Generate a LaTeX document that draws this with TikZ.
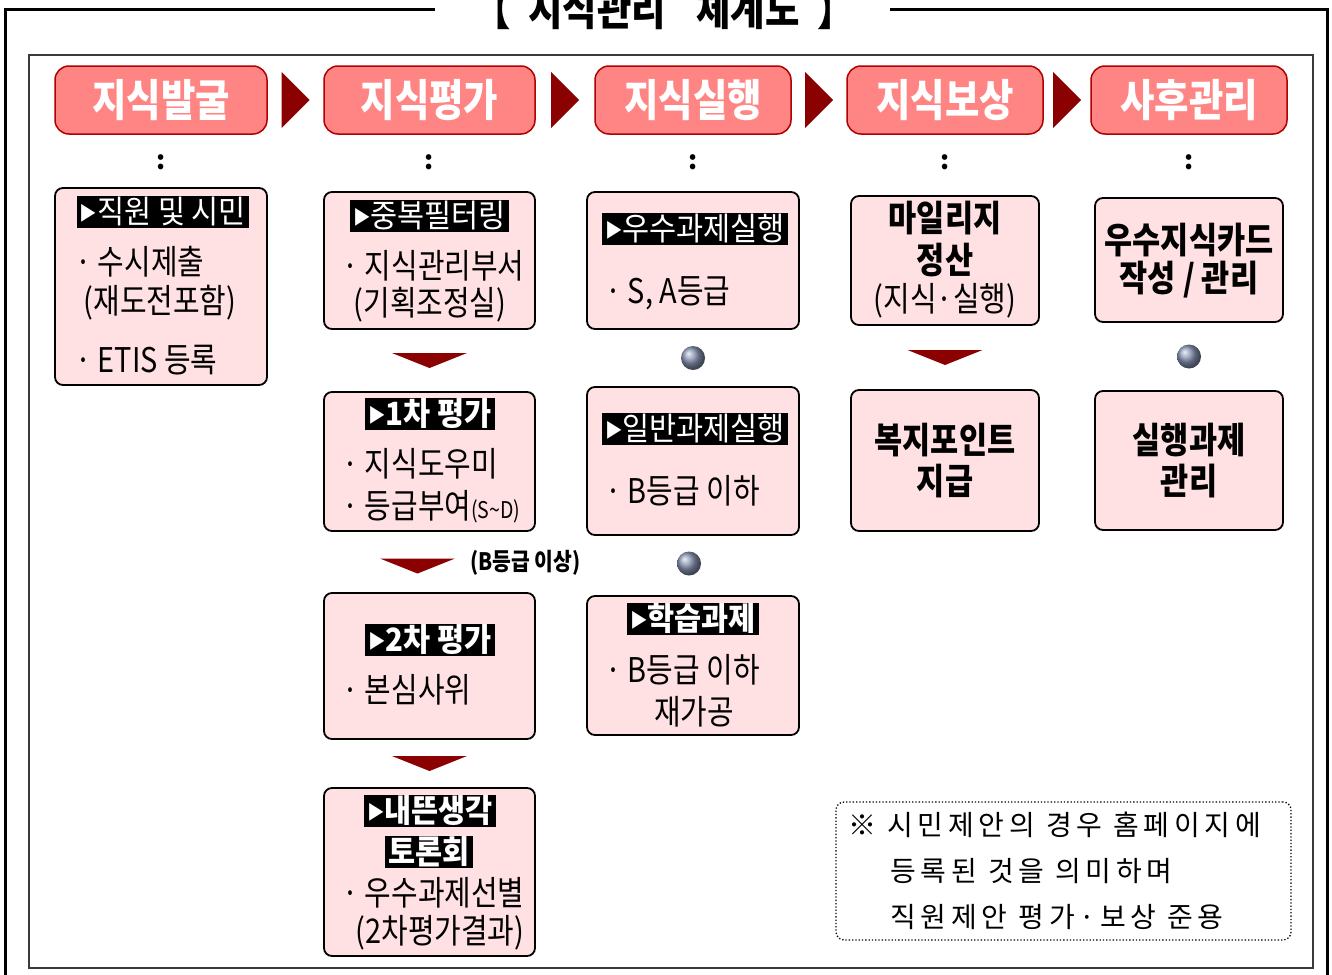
\documentclass[tikz,border=0pt]{standalone}
\usepackage{fontspec}
\newfontfamily\krfont{Noto Sans CJK KR}
\newfontfamily\krnarrow[FakeStretch=0.85]{Noto Sans CJK KR}
\newfontfamily\krtag[FakeStretch=0.92]{Noto Sans CJK KR}
\newfontfamily\krspaced[LetterSpace=17]{Noto Sans CJK KR}
\usetikzlibrary{calc,positioning}
\definecolor{headfill}{HTML}{FF8585}
\definecolor{headline}{HTML}{B00000}
\definecolor{boxpink}{HTML}{FFE0E3}
\definecolor{arrowred}{HTML}{8B0000}
\definecolor{framegray}{HTML}{3A3A3A}
\definecolor{ballgray}{HTML}{8A96B4}
\newcommand{\tri}{{\fontsize{19}{19}\selectfont\raisebox{3pt}{▶}}}
\begin{document}
\begin{tikzpicture}[x=1pt, y=-1pt,
    headbox/.style={draw=headline, line width=1.5pt, fill=headfill, rounded corners=14pt,
        minimum height=68pt, text=white, font=\krnarrow\bfseries\fontsize{44}{48}\selectfont},
    cardbox/.style={draw=black, line width=1.8pt, fill=boxpink, rounded corners=8pt},
    tagbox/.style={fill=black, text=white, inner xsep=3pt, inner ysep=0.5pt, text height=27pt, text depth=4pt,
        font=\krtag\fontsize{32}{34}\selectfont},
    tagbold/.style={tagbox, font=\krtag\bfseries\fontsize{32}{34}\selectfont},
    bodytext/.style={inner sep=0pt, font=\krnarrow\fontsize{34}{36}\selectfont},
    boldtext/.style={inner sep=0pt, font=\krnarrow\bfseries\fontsize{36}{38}\selectfont},
    smallbold/.style={inner sep=0pt, font=\krnarrow\bfseries\fontsize{24}{26}\selectfont},
    dotmark/.style={inner sep=0pt, font=\krfont\bfseries\fontsize{26}{26}\selectfont},
    ballmark/.style={circle, inner sep=0pt, minimum size=24pt, shading=ball, ball color=ballgray},
    notetext/.style={anchor=west, inner sep=0pt, font=\krspaced\fontsize{28}{30}\selectfont}
]
    \clip (0,0) rectangle (1332,974);

    % outer frame and title
    \draw[line width=3pt] (435,10) -- (5,10) -- (5,990);
    \draw[line width=3pt] (890,10) -- (1327,10) -- (1327,990);
    \node[font=\krnarrow\bfseries\fontsize{44}{48}\selectfont, anchor=base] (title) at (664,26)
        {【\hspace{18pt}지식관리\hspace{30pt}체계도\hspace{18pt}】};

    % inner frame
    \draw[framegray, line width=1.5pt] (29,55) rectangle (1313,968);

    % stage headers
    \node[headbox, minimum width=212pt] (h1) at (161,100) {지식발굴};
    \node[headbox, minimum width=211pt] (h2) at (429.5,100) {지식평가};
    \node[headbox, minimum width=196pt] (h3) at (693,100) {지식실행};
    \node[headbox, minimum width=196pt] (h4) at (945,100) {지식보상};
    \node[headbox, minimum width=196pt] (h5) at (1189,100) {사후관리};

    \foreach \a/\b in {h1/h2, h2/h3, h3/h4, h4/h5}
        \fill[arrowred] ($(\a.east)!0.5!(\b.west)$) +(-14,-28) -- +(14,0) -- +(-14,28) -- cycle;

    \foreach \i in {1,...,5}
        \node[dotmark] (d\i) at ($(h\i.south)+(0,27)$) {:};

    % column 1
    \node[cardbox, minimum width=212pt, minimum height=197pt] (c1) at (161,286.5) {};
    \node[tagbox] (g1) at (163,211.5) {\tri 직원 및 시민};
    \node[bodytext, anchor=west] (t1a) at (75,262) {· 수시제출};
    \node[bodytext] (t1b) at (160,303) {(재도전포함)};
    \node[bodytext, anchor=west] (t1c) at (75,360) {· ETIS 등록};

    % column 2
    \node[cardbox, minimum width=211pt, minimum height=137pt] (c2a) at (429.5,260.5) {};
    \node[tagbox] (g2a) at (429.5,216) {\tri 중복필터링};
    \node[bodytext, anchor=west] (t2a) at (342,266) {· 지식관리부서};
    \node[bodytext] (t2b) at (430,305) {(기획조정실)};

    \node[cardbox, minimum width=211pt, minimum height=139pt] (c2b) at (429.5,461.5) {};
    \node[tagbold] (g2b) at (430,414) {\tri 1차 평가};
    \node[bodytext, anchor=west] (t2c) at (342,464) {· 지식도우미};
    \node[bodytext, anchor=west] (t2d) at (342,507) {· 등급부여{\fontsize{23}{25}\selectfont(S\textasciitilde D)}};

    \node[cardbox, minimum width=211pt, minimum height=146pt] (c2c) at (429.5,666) {};
    \node[tagbold] (g2c) at (430,640) {\tri 2차 평가};
    \node[bodytext, anchor=west] (t2e) at (342,690) {· 본심사위};

    \node[cardbox, minimum width=211pt, minimum height=168pt] (c2d) at (429.5,872) {};
    \node[tagbold] (g2d) at (430,810.5) {\tri 내뜬생각};
    \node[tagbold] (g2e) at (429,852) {토론회};
    \node[bodytext, anchor=west] (t2f) at (342,893) {· 우수과제선별};
    \node[bodytext] (t2g) at (440,933) {(2차평가결과)};

    \fill[arrowred] ($(c2a.south)!0.5!(c2b.north)$) +(-37.5,-7.5) -- +(37.5,-7.5) -- +(0,7.5) -- cycle;
    \fill[arrowred] ($(c2b.south)!0.5!(c2c.north)+(-12,4)$) +(-37.5,-7.5) -- +(37.5,-7.5) -- +(0,7.5) -- cycle;
    \fill[arrowred] ($(c2c.south)!0.5!(c2d.north)$) +(-37.5,-7.5) -- +(37.5,-7.5) -- +(0,7.5) -- cycle;
    \node[smallbold, anchor=west] (grade) at (470,563) {(B등급 이상)};

    % column 3
    \node[cardbox, minimum width=212pt, minimum height=137pt] (c3a) at (693,260.5) {};
    \node[tagbox] (g3a) at (695,228.5) {\tri 우수과제실행};
    \node[bodytext, anchor=west] (t3a) at (605,293) {· S, A등급};

    \node[cardbox, minimum width=212pt, minimum height=148pt] (c3b) at (693,461) {};
    \node[tagbox] (g3b) at (695,428.5) {\tri 일반과제실행};
    \node[bodytext, anchor=west] (t3b) at (605,491) {· B등급 이하};

    \node[cardbox, minimum width=212pt, minimum height=139pt] (c3c) at (693,665.5) {};
    \node[tagbold] (g3c) at (693,618.5) {\tri 학습과제};
    \node[bodytext, anchor=west] (t3c) at (605,670) {· B등급 이하};
    \node[bodytext] (t3d) at (694,712) {재가공};

    \node[ballmark] (b1) at ($(c3a.south)!0.5!(c3b.north)$) {};
    \node[ballmark] (b2) at ($(c3b.south)!0.5!(c3c.north)+(-4,-2)$) {};

    % column 4
    \node[cardbox, minimum width=188pt, minimum height=129pt] (c4a) at (945,260.5) {};
    \node[boldtext] (t4a) at (945,218) {마일리지};
    \node[boldtext] (t4b) at (945,260) {정산};
    \node[bodytext] (t4c) at (945,301) {(지식·실행)};

    \node[cardbox, minimum width=188pt, minimum height=141pt] (c4b) at (945,460.5) {};
    \node[boldtext] (t4d) at (945,440) {복지포인트};
    \node[boldtext] (t4e) at (945,481) {지급};

    \fill[arrowred] ($(c4a.south)!0.5!(c4b.north)$) +(-37.5,-7.5) -- +(37.5,-7.5) -- +(0,7.5) -- cycle;

    % column 5
    \node[cardbox, minimum width=188pt, minimum height=124pt] (c5a) at (1189,260) {};
    \node[boldtext] (t5a) at (1189,240) {우수지식카드};
    \node[boldtext] (t5b) at (1189,280) {작성 / 관리};

    \node[cardbox, minimum width=188pt, minimum height=139pt] (c5b) at (1189,460.5) {};
    \node[boldtext] (t5c) at (1189,440) {실행과제};
    \node[boldtext] (t5d) at (1189,481) {관리};

    \node[ballmark] (b3) at ($(c5a.south)!0.5!(c5b.north)$) {};

    % note
    \node[draw, dotted, line width=1.3pt, rounded corners=8pt, minimum width=455pt, minimum height=138pt] (note) at (1063.5,871) {};
    \node[notetext] (n1) at (848,825) {※ 시민제안의 경우 홈페이지에};
    \node[notetext] (n2) at (890,871) {등록된 것을 의미하며};
    \node[notetext] (n3) at (890,917) {직원제안 평가·보상 준용};
\end{tikzpicture}
\end{document}
